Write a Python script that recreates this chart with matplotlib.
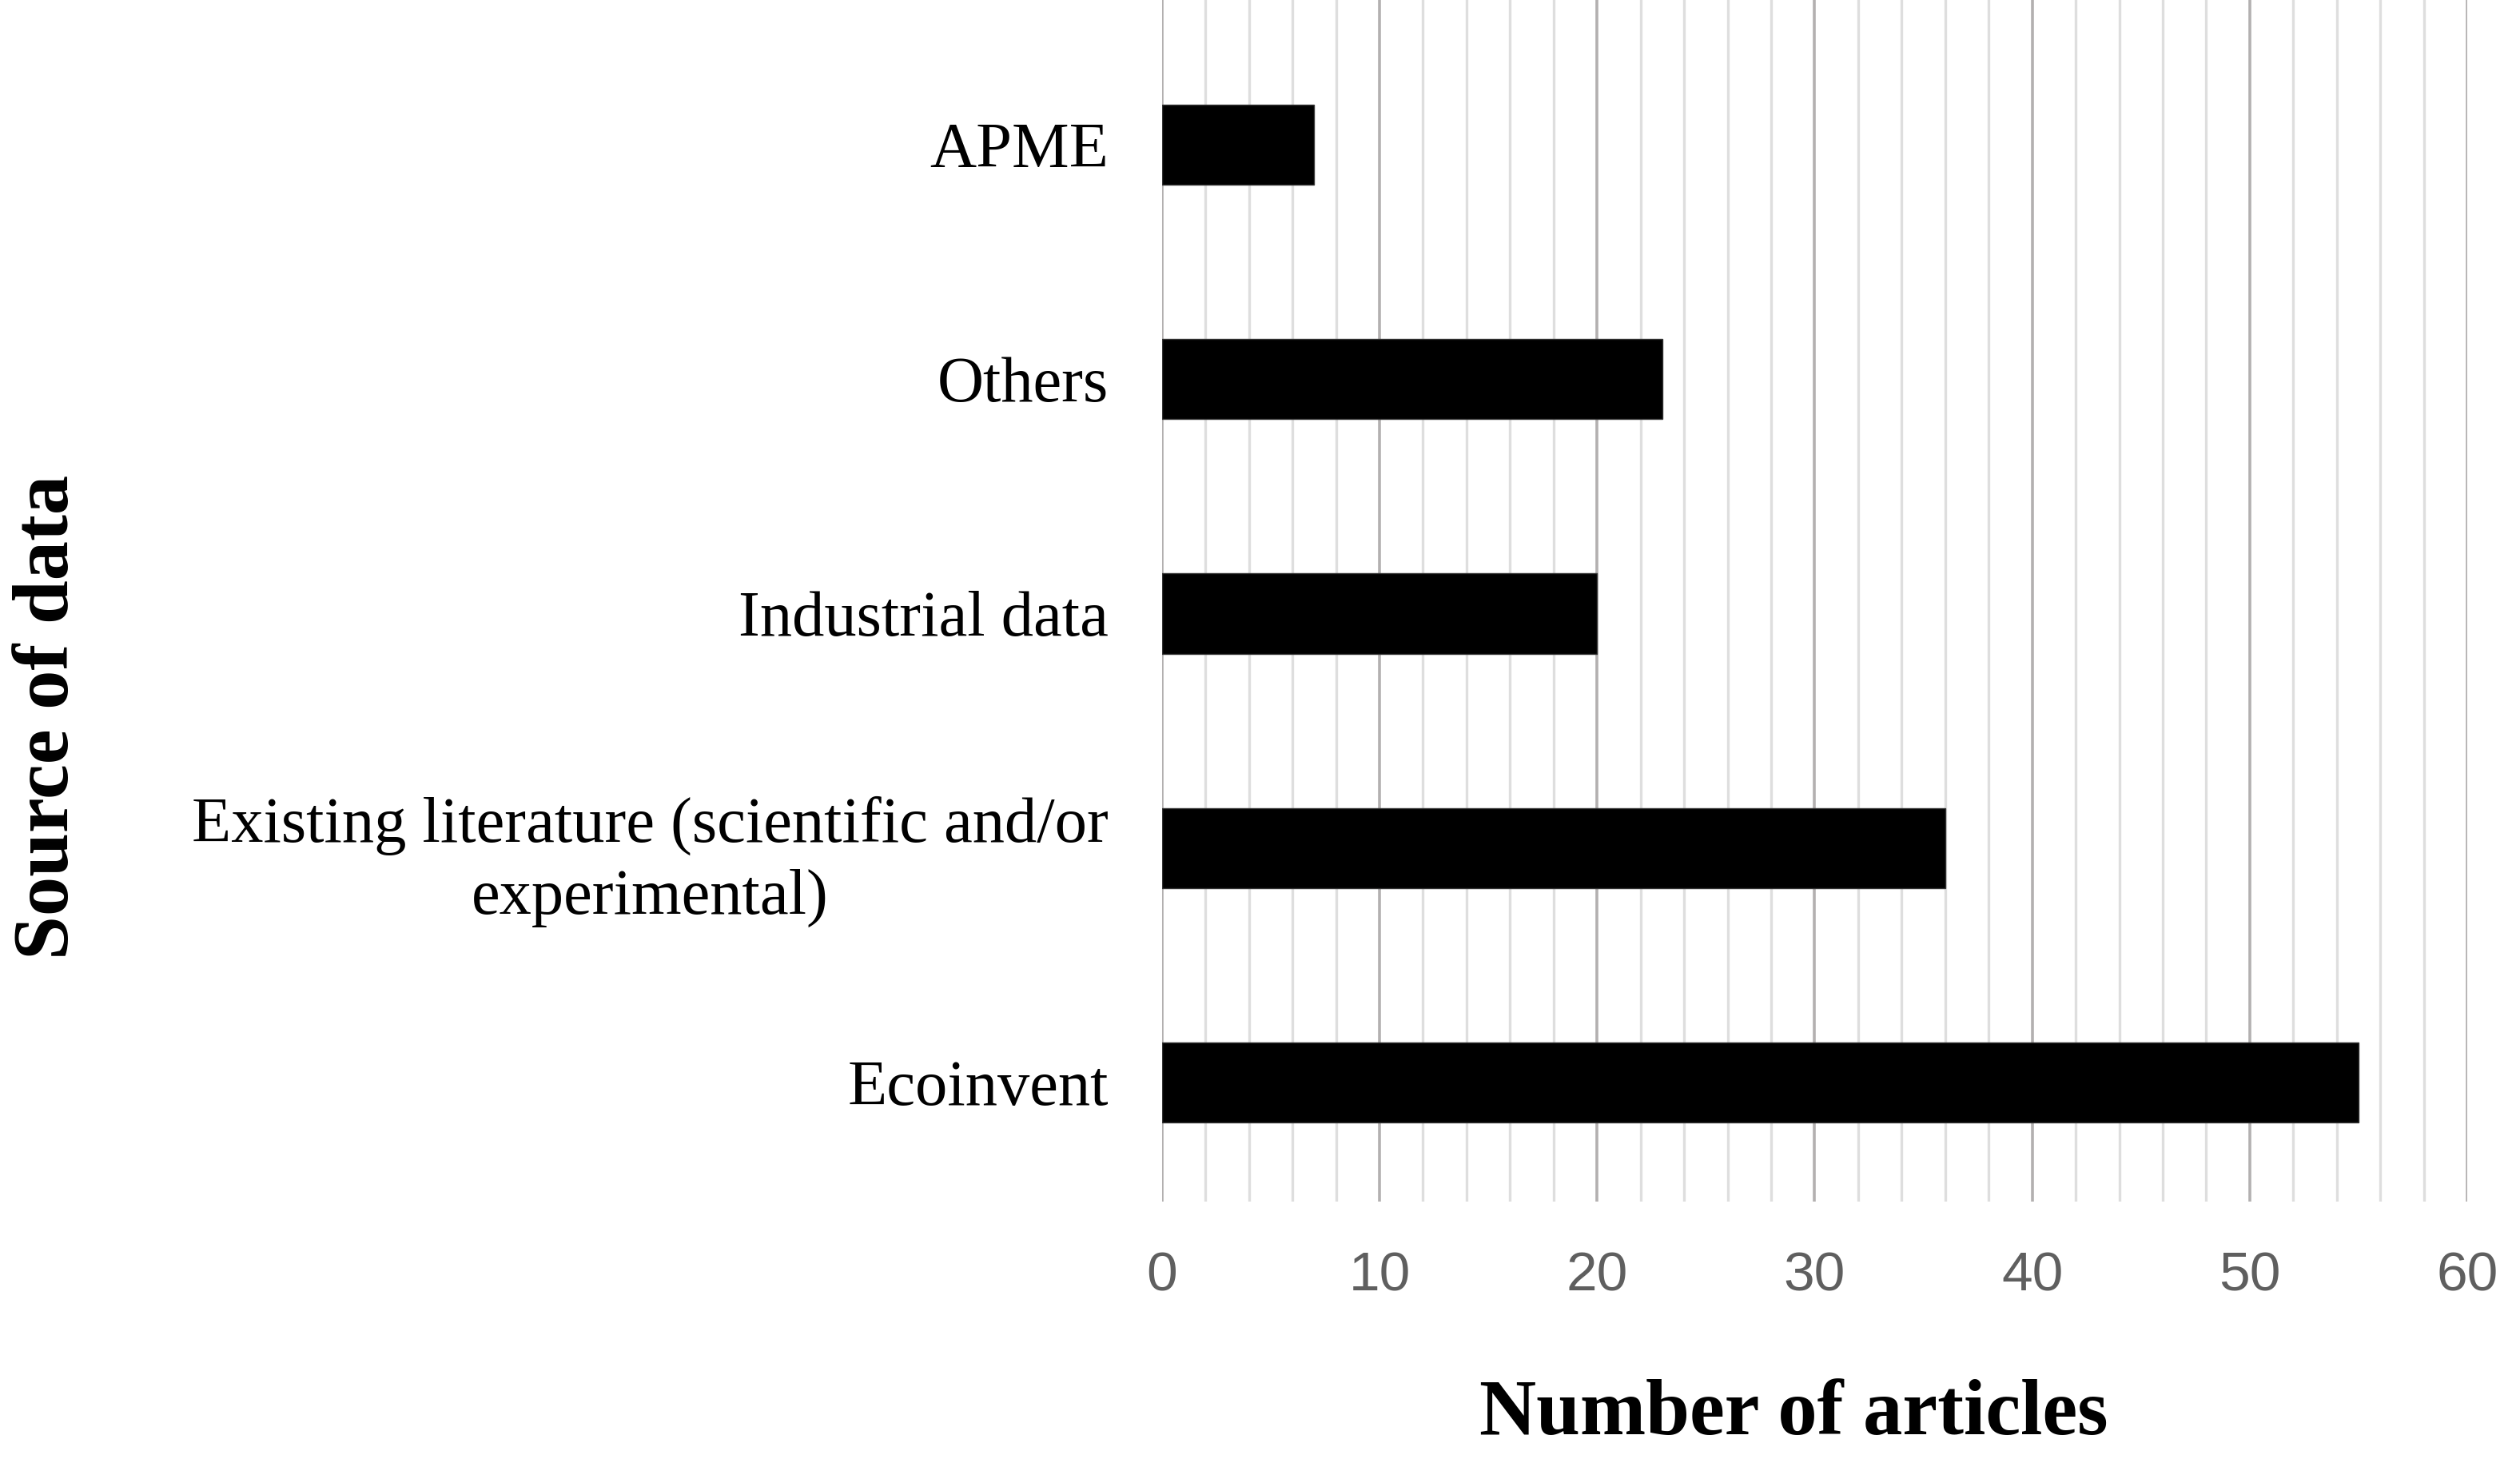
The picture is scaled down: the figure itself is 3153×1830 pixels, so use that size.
import numpy as np
import matplotlib
matplotlib.use("Agg")
import matplotlib.pyplot as plt
from matplotlib.ticker import MultipleLocator

# data (bottom to top)
sources = ["Ecoinvent",
           "Existing literature (scientific and/or\nexperimental)",
           "Industrial data",
           "Others",
           "APME"]
articles = [55, 36, 20, 23, 7]
x_ticks = [0, 10, 20, 30, 40, 50, 60]

fig = plt.figure(figsize=(31.53, 18.30), dpi=100)
ax = fig.add_axes([0.4611, 0.1787, 0.5180, 0.8213])

y = np.arange(len(sources))
ax.barh(y, articles, height=0.342, color="black", edgecolor="#333333",
        linewidth=1.0, zorder=3)

ax.set_xlim(0, 60)
ax.set_ylim(-0.507, 4.616)

# gridlines: light every 2, darker every 10
ax.xaxis.set_minor_locator(MultipleLocator(2))
ax.set_xticks(x_ticks)
ax.grid(axis="x", which="minor", color="#dedede", linewidth=2.4, zorder=0)
ax.grid(axis="x", which="major", color="#b3b0b0", linewidth=2.6, zorder=1)
ax.set_axisbelow(True)

for s in ax.spines.values():
    s.set_visible(False)

ax.tick_params(axis="x", which="both", length=0, pad=44,
               labelsize=50, labelcolor="#5f5f5f")
for lbl in ax.get_xticklabels():
    lbl.set_fontfamily("Liberation Sans")

ax.set_yticks(y)
ax.set_yticklabels(sources, fontfamily="Liberation Serif", fontsize=58,
                   linespacing=1.3, multialignment="center")
ax.tick_params(axis="y", length=0, pad=48)

fig.text(0.7117, 0.033, "Number of articles", ha="center", va="center",
         fontfamily="Liberation Serif", fontweight="bold", fontsize=71)
fig.text(0.0195, 0.51, "Source of data", ha="center", va="center",
         rotation=90, fontfamily="Liberation Serif", fontweight="bold",
         fontsize=71)

fig.savefig("out.png", dpi=100, facecolor="white")
